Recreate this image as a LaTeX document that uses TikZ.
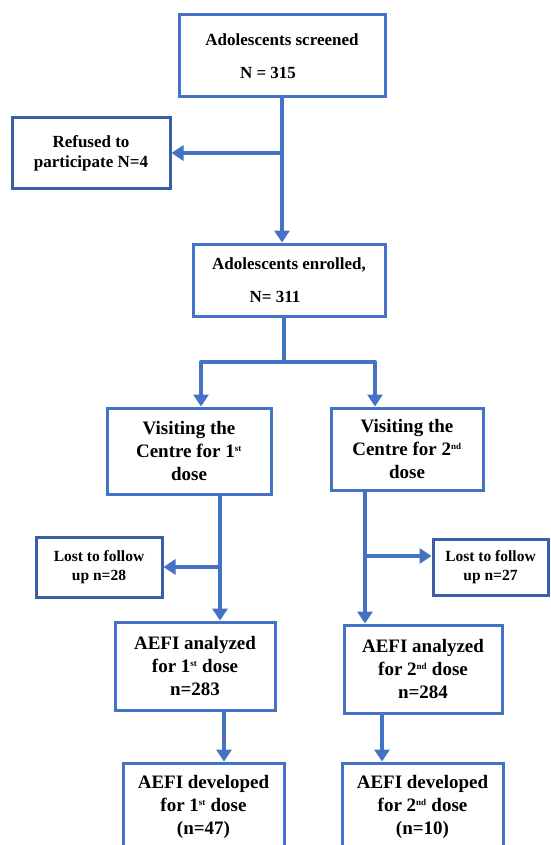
\documentclass[tikz,border=0pt]{standalone}
\usepackage{fontspec}
\setmainfont{Liberation Serif}
\usetikzlibrary{arrows.meta}
\definecolor{lineblue}{HTML}{4472C4}
\definecolor{boxblue}{HTML}{4472C4}
\definecolor{darkbox}{HTML}{3A5FA6}
\begin{document}
\begin{tikzpicture}[x=1pt,y=-1pt,
  box/.style={draw=boxblue, line width=3pt, fill=white, rectangle, inner sep=0pt, align=center, font=\bfseries},
  smallbox/.style={box, draw=darkbox},
  topfont/.style={font=\bfseries\fontsize{17}{20}\selectfont},
  lostfont/.style={font=\bfseries\fontsize{15.5}{19}\selectfont},
  bigfont/.style={font=\bfseries\fontsize{19}{23}\selectfont},
  conn/.style={draw=lineblue, line width=4pt},
  arr/.style={conn, -{Triangle[length=12pt,width=15pt]}}
]
\clip (0,0) rectangle (550,845);
\fill[white] (0,0) rectangle (550,845);

% boxes
\node[box, topfont, minimum width=206pt, minimum height=82pt] (screen) at (282,56)
  {Adolescents screened\\[13pt]N = 315\hspace*{28pt}};
\node[smallbox, topfont, minimum width=158pt, minimum height=70pt] (refused) at (91,153)
  {Refused to\\participate N=4};
\node[box, topfont, minimum width=192pt, minimum height=72pt] (enrol) at (289,280)
  {Adolescents enrolled,\\[13pt]N= 311\hspace*{28pt}};
\node[box, bigfont, minimum width=164pt, minimum height=86pt] (visit1) at (189,451)
  {Visiting the\\Centre for 1\textsuperscript{\fontsize{9}{9}\selectfont st}\\dose};
\node[box, bigfont, minimum width=152pt, minimum height=82pt] (visit2) at (407,449)
  {Visiting the\\Centre for 2\textsuperscript{\fontsize{9}{9}\selectfont nd}\\dose};
\node[smallbox, lostfont, minimum width=126pt, minimum height=60pt] (lost1) at (99,567)
  {Lost to follow\\up n=28};
\node[smallbox, lostfont, minimum width=115pt, minimum height=56pt] (lost2) at (490.5,567)
  {Lost to follow\\up n=27};
\node[box, bigfont, minimum width=160pt, minimum height=88pt] (aefi1) at (195,666)
  {AEFI analyzed\\for 1\textsuperscript{\fontsize{9}{9}\selectfont st} dose\\n=283};
\node[box, bigfont, minimum width=158pt, minimum height=88pt] (aefi2) at (423,669)
  {AEFI analyzed\\for 2\textsuperscript{\fontsize{9}{9}\selectfont nd} dose\\n=284};
\node[box, bigfont, minimum width=161pt, minimum height=88pt] (dev1) at (203.5,807)
  {AEFI developed\\for 1\textsuperscript{\fontsize{9}{9}\selectfont st} dose\\(n=47)};
\node[box, bigfont, minimum width=161pt, minimum height=88pt] (dev2) at (422.5,807)
  {AEFI developed\\for 2\textsuperscript{\fontsize{9}{9}\selectfont nd} dose\\(n=10)};

% connector coordinates
\coordinate (br) at (284,362);
\coordinate (bl) at (201,362);
\coordinate (brr) at (375,362);
\coordinate (c1) at (220,500);
\coordinate (c2) at (365,500);
\coordinate (l2a) at (365,556);
\coordinate (d1) at (224,740);
\coordinate (d2) at (382,740);

% connectors
\draw[arr] (screen.south) -- (screen.south |- enrol.north);
\draw[arr] (screen.south |- refused.east) -- (refused.east);
\draw[conn] (enrol.south -| br) -- (br);
\draw[arr, line join=round] (br) -- (bl) -- (bl |- visit1.north);
\draw[arr, line join=round] (br) -- (brr) -- (brr |- visit2.north);
\draw[arr] (visit1.south -| c1) -- (aefi1.north -| c1);
\draw[arr] (c1 |- lost1.east) -- (lost1.east);
\draw[arr] (visit2.south -| c2) -- (aefi2.north -| c2);
\draw[arr] (l2a) -- (l2a -| lost2.west);
\draw[arr] (aefi1.south -| d1) -- (dev1.north -| d1);
\draw[arr] (aefi2.south -| d2) -- (dev2.north -| d2);
\end{tikzpicture}
\end{document}
